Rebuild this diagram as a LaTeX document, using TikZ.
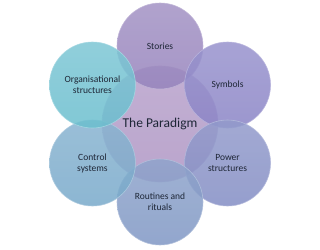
\documentclass[tikz,border=0pt]{standalone}
\usepackage{fontspec}
\setmainfont{Carlito}
\usetikzlibrary{calc}
\definecolor{storiesc}{HTML}{9683BC}
\definecolor{symbolsc}{HTML}{8A84C6}
\definecolor{powerc}{HTML}{838DC4}
\definecolor{routinesc}{HTML}{7F97C4}
\definecolor{controlc}{HTML}{78A9CA}
\definecolor{orgc}{HTML}{6BBECE}
\definecolor{centrec}{HTML}{AE95C4}
\definecolor{labelc}{HTML}{1E2636}
\begin{document}
\begin{tikzpicture}[x=1pt, y=-1pt, line join=round, font=\fontsize{9.5}{11}\selectfont]
	\tikzset{blob/.style={circle, minimum size=86pt, inner sep=0pt, align=center,
			draw=white!40!#1, line width=.6pt, top color=white!12!#1, bottom color=#1,
			fill opacity=.85, draw opacity=.9, text opacity=1, text=labelc}}
	\useasboundingbox (0,0) rectangle (320,249);
	\node[blob=centrec, minimum size=116pt, font=\fontsize{13.5}{15}\selectfont] (paradigm) at (160,124) {The Paradigm};
	\foreach \n/\a/\c/\t in {stories/90/storiesc/Stories,
		symbols/30/symbolsc/Symbols,
		power/-30/powerc/Power\\structures,
		routines/-90/routinesc/Routines and\\rituals,
		control/210/controlc/Control\\systems,
		org/150/orgc/Organisational\\structures}{
		\node[blob=\c] (\n) at ($(paradigm.center)+(\a:78pt)$) {\t};
	}
\end{tikzpicture}
\end{document}
